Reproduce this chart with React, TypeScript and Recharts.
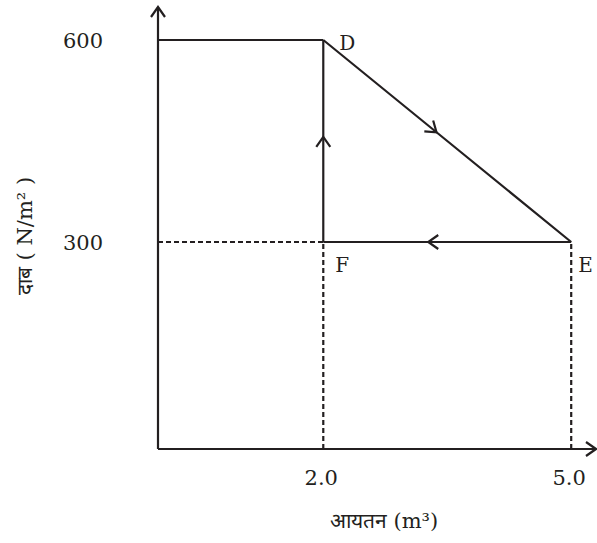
import React from 'react';
import { ComposedChart, Line, XAxis, YAxis, ReferenceDot } from 'recharts';

// Volume (m^3) and pressure (N/m^2) values
const xTicks = [2.0, 5.0];
const yTicks = [300, 600];
const topLine = [{ v: 0, p: 600 }, { v: 2, p: 600 }];
// cycle D -> E -> F -> D, each leg with the point where its arrow sits
const legDE = [{ v: 2, p: 600 }, { v: 3.37, p: 463 }, { v: 5, p: 300 }];
const legEF = [{ v: 5, p: 300 }, { v: 3.27, p: 300 }, { v: 2, p: 300 }];
const legFD = [{ v: 2, p: 300 }, { v: 2, p: 456 }, { v: 2, p: 600 }];
// dashed guide lines
const guideH = [{ v: 0, p: 300 }, { v: 2, p: 300 }];
const guideF = [{ v: 2, p: -7.4 }, { v: 2, p: 300 }];
const guideE = [{ v: 5, p: -7.4 }, { v: 5, p: 300 }];
const pointLabels = [
  { name: 'D', v: 2, p: 600 },
  { name: 'F', v: 2, p: 300 },
  { name: 'E', v: 5, p: 300 },
];
const xDomain = [0, 5.3];
const yDomain = [-7.4, 649];
const xTitle = 'आयतन (m³)';
const yTitle = 'दाब ( N/m² )';

const INK = '#231f20';
const SERIF = '"DejaVu Serif", "Liberation Serif", serif';
const labelOffsets: Record<string, [number, number]> = { D: [16, 10], F: [12, 30], E: [7, 30] };

const Markers = () => (
  <svg width={0} height={0} style={{ position: 'absolute' }}>
    <defs>
      <marker id="arr" viewBox="-2 -10 14 20" refX={10} refY={0} markerWidth={14} markerHeight={20}
        markerUnits="userSpaceOnUse" orient="auto" overflow="visible">
        <path d="M0,-7 L10,0 L0,7" fill="none" stroke={INK} strokeWidth={2.2} />
      </marker>
      <marker id="arrStart" viewBox="-2 -10 14 20" refX={10} refY={0} markerWidth={14} markerHeight={20}
        markerUnits="userSpaceOnUse" orient="auto-start-reverse" overflow="visible">
        <path d="M0,-7 L10,0 L0,7" fill="none" stroke={INK} strokeWidth={2.2} />
      </marker>
    </defs>
  </svg>
);

const XTick = (props: any) => {
  const { x, y, payload } = props;
  return (
    <text x={x - 2} y={y + 36} textAnchor="middle" fontFamily={SERIF} fontSize={21} fill={INK}>
      {Number(payload.value).toFixed(1)}
    </text>
  );
};

const YTick = (props: any) => {
  const { x, y, payload } = props;
  return (
    <text x={x - 55} y={y + 8} textAnchor="end" fontFamily={SERIF} fontSize={21} fill={INK}>
      {payload.value}
    </text>
  );
};

export default function App() {
  const lineProps = { type: 'linear' as const, dataKey: 'p', stroke: INK, strokeWidth: 2.2, dot: false, isAnimationActive: false, activeDot: false };
  return (
    <div style={{ position: 'absolute', left: 0, top: 0, width: 597, height: 543, background: '#fff' }}>
      <Markers />
      <ComposedChart width={597} height={543} margin={{ top: 7, right: 1, bottom: 0, left: 0 }}>
        <XAxis
          type="number"
          dataKey="v"
          domain={xDomain}
          ticks={xTicks}
          allowDataOverflow
          height={94}
          tickSize={0}
          tickMargin={0}
          tickLine={false}
          tick={<XTick />}
          axisLine={{ stroke: INK, strokeWidth: 2.2, markerEnd: 'url(#arr)' }}
          label={{
            content: (p: any) => {
              const vb = p.viewBox;
              return (
                <text x={384} y={vb.y + 79} textAnchor="middle" fontFamily={SERIF} fontSize={21} fill={INK}>
                  {xTitle}
                </text>
              );
            },
          }}
        />
        <YAxis
          type="number"
          dataKey="p"
          domain={yDomain}
          ticks={yTicks}
          allowDataOverflow
          width={158}
          tickSize={0}
          tickMargin={0}
          tickLine={false}
          tick={<YTick />}
          axisLine={{ stroke: INK, strokeWidth: 2.2, markerStart: 'url(#arrStart)' }}
          label={{
            content: () => (
              <text x={25} y={236} transform="rotate(-90 25 236)" textAnchor="middle" dominantBaseline="central"
                fontFamily={SERIF} fontSize={21} fill={INK}>
                {yTitle}
              </text>
            ),
          }}
        />
        <Line {...lineProps} data={guideH} strokeDasharray="5 3" />
        <Line {...lineProps} data={guideF} strokeDasharray="5 3" />
        <Line {...lineProps} data={guideE} strokeDasharray="5 3" />
        <Line {...lineProps} data={topLine} />
        <Line {...lineProps} data={legDE} markerMid="url(#arr)" />
        <Line {...lineProps} data={legEF} markerMid="url(#arr)" />
        <Line {...lineProps} data={legFD} markerMid="url(#arr)" />
        {pointLabels.map((pt) => (
          <ReferenceDot
            key={pt.name}
            x={pt.v}
            y={pt.p}
            r={0}
            ifOverflow="visible"
            shape={(sp: any) => (
              <text x={sp.cx + labelOffsets[pt.name][0]} y={sp.cy + labelOffsets[pt.name][1]}
                fontFamily={SERIF} fontSize={20} fill={INK}>
                {pt.name}
              </text>
            )}
          />
        ))}
      </ComposedChart>
    </div>
  );
}
